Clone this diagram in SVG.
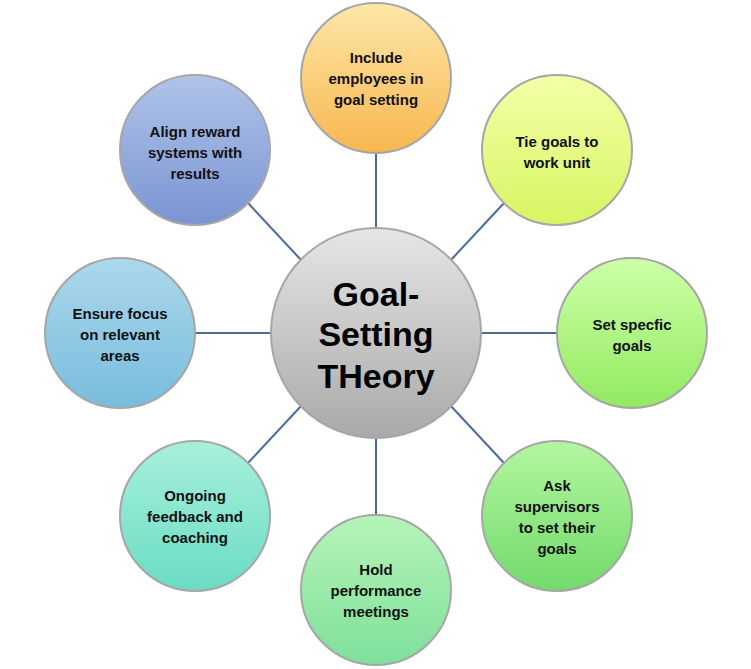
<svg xmlns="http://www.w3.org/2000/svg" width="751" height="669" viewBox="0 0 751 669">
<style>
.n{stroke:#a6a6a6;stroke-width:2}
.t{font-family:"Liberation Sans",Arial,sans-serif;font-weight:bold;font-size:15px;fill:#111;text-anchor:middle}
.c{font-family:"Liberation Sans",Arial,sans-serif;font-weight:bold;font-size:34px;fill:#000;text-anchor:middle}
line{stroke:#4a6b9a;stroke-width:2}
</style>
<defs>
<linearGradient id="g0" x1="0" y1="0" x2="0" y2="1"><stop offset="0" stop-color="#e6e6e6"/><stop offset="1" stop-color="#a9a9a9"/></linearGradient>
<linearGradient id="g1" x1="0" y1="0" x2="0" y2="1"><stop offset="0" stop-color="#fde8a8"/><stop offset="1" stop-color="#f8b650"/></linearGradient>
<linearGradient id="g2" x1="0" y1="0" x2="0" y2="1"><stop offset="0" stop-color="#f4ffa8"/><stop offset="1" stop-color="#d6f562"/></linearGradient>
<linearGradient id="g3" x1="0" y1="0" x2="0" y2="1"><stop offset="0" stop-color="#cdffa8"/><stop offset="1" stop-color="#92ea60"/></linearGradient>
<linearGradient id="g4" x1="0" y1="0" x2="0" y2="1"><stop offset="0" stop-color="#b4f6a0"/><stop offset="1" stop-color="#72da6a"/></linearGradient>
<linearGradient id="g5" x1="0" y1="0" x2="0" y2="1"><stop offset="0" stop-color="#b6f4b8"/><stop offset="1" stop-color="#7ee09a"/></linearGradient>
<linearGradient id="g6" x1="0" y1="0" x2="0" y2="1"><stop offset="0" stop-color="#a8f0dc"/><stop offset="1" stop-color="#6adcc4"/></linearGradient>
<linearGradient id="g7" x1="0" y1="0" x2="0" y2="1"><stop offset="0" stop-color="#acd8ec"/><stop offset="1" stop-color="#78bcdc"/></linearGradient>
<linearGradient id="g8" x1="0" y1="0" x2="0" y2="1"><stop offset="0" stop-color="#b0c4e8"/><stop offset="1" stop-color="#7a94d2"/></linearGradient>
</defs>
<g id="connectors">
<line x1="376" y1="153" x2="376" y2="228"/>
<line x1="504" y1="203" x2="450" y2="261"/>
<line x1="557" y1="333" x2="481" y2="333"/>
<line x1="504" y1="463" x2="450" y2="405"/>
<line x1="376" y1="515" x2="376" y2="438"/>
<line x1="248" y1="463" x2="302" y2="405"/>
<line x1="195" y1="333" x2="271" y2="333"/>
<line x1="248" y1="203" x2="302" y2="261"/>
</g>
<g id="center"><circle class="n" cx="376" cy="333" r="105" fill="url(#g0)"/>
<text class="c" x="376" y="306">Goal-</text><text class="c" x="376" y="346">Setting</text><text class="c" x="376" y="388">THeory</text></g>
<g id="n1"><circle class="n" cx="376" cy="78" r="75" fill="url(#g1)"/>
<text class="t" x="376" y="63">Include</text><text class="t" x="376" y="84">employees in</text><text class="t" x="376" y="105">goal setting</text></g>
<g id="n2"><circle class="n" cx="557" cy="150" r="75" fill="url(#g2)"/>
<text class="t" x="557" y="147">Tie goals to</text><text class="t" x="557" y="168">work unit</text></g>
<g id="n3"><circle class="n" cx="632" cy="333" r="75" fill="url(#g3)"/>
<text class="t" x="632" y="330">Set specfic</text><text class="t" x="632" y="351">goals</text></g>
<g id="n4"><circle class="n" cx="557" cy="516" r="75" fill="url(#g4)"/>
<text class="t" x="557" y="491">Ask</text><text class="t" x="557" y="512">supervisors</text><text class="t" x="557" y="533">to set their</text><text class="t" x="557" y="554">goals</text></g>
<g id="n5"><circle class="n" cx="376" cy="590" r="75" fill="url(#g5)"/>
<text class="t" x="376" y="575">Hold</text><text class="t" x="376" y="596">performance</text><text class="t" x="376" y="617">meetings</text></g>
<g id="n6"><circle class="n" cx="195" cy="516" r="75" fill="url(#g6)"/>
<text class="t" x="195" y="501">Ongoing</text><text class="t" x="195" y="522">feedback and</text><text class="t" x="195" y="543">coaching</text></g>
<g id="n7"><circle class="n" cx="120" cy="333" r="75" fill="url(#g7)"/>
<text class="t" x="120" y="319">Ensure focus</text><text class="t" x="120" y="340">on relevant</text><text class="t" x="120" y="361">areas</text></g>
<g id="n8"><circle class="n" cx="195" cy="150" r="75" fill="url(#g8)"/>
<text class="t" x="195" y="137">Align reward</text><text class="t" x="195" y="158">systems with</text><text class="t" x="195" y="179">results</text></g>
</svg>
